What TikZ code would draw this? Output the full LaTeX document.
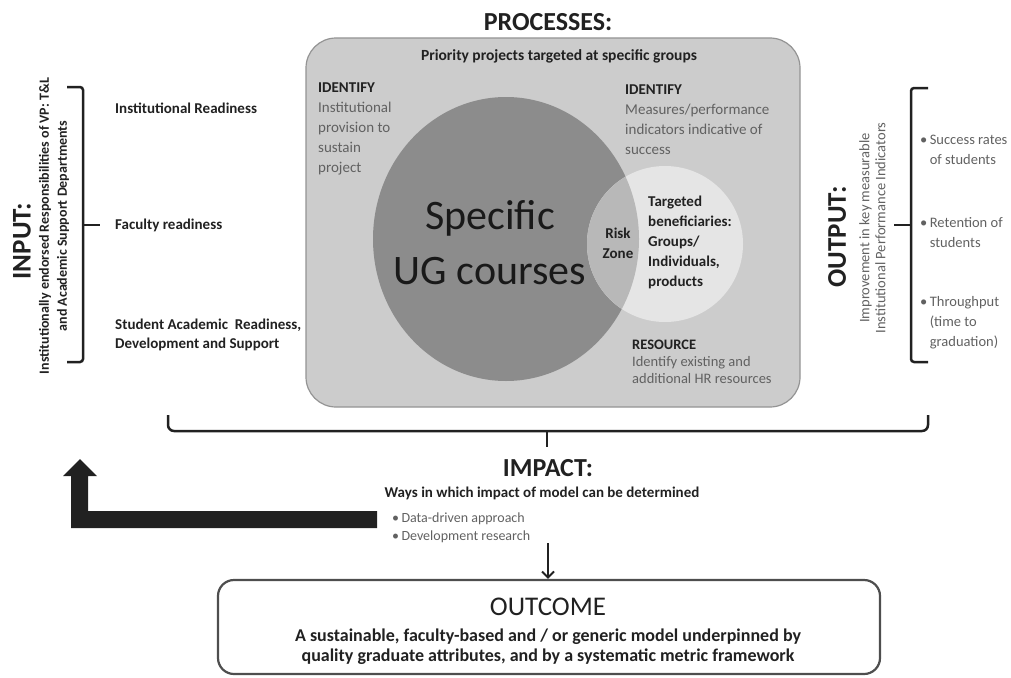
\documentclass[tikz,border=0pt]{standalone}
\usepackage{fontspec}
\setmainfont{Carlito}
\usepackage{tikz}
\usetikzlibrary{
    arrows.meta,
    positioning,
    calc
}
\definecolor{inkgray}{gray}{0.13}
\definecolor{txtgray}{gray}{0.38}
\definecolor{boxgray}{gray}{0.80}
\definecolor{boxline}{gray}{0.58}
\definecolor{darkdisk}{gray}{0.55}
\definecolor{lightdisk}{gray}{0.90}
\definecolor{riskgray}{gray}{0.72}
\tikzstyle{heading} = [
    inner sep=0pt,
    text=inkgray,
    font=\fontsize{26}{30}\selectfont\bfseries
]
\tikzstyle{label} = [
    inner sep=0pt,
    align=left,
    text=inkgray,
    font=\fontsize{15}{20}\selectfont\bfseries
]
\tikzstyle{body} = [
    inner sep=0pt,
    align=left,
    text=txtgray,
    font=\fontsize{15}{20}\selectfont
]
\tikzstyle{bracket} = [
    line width=2.5pt,
    draw=inkgray,
    rounded corners=3pt
]
\tikzstyle{procbox} = [
    rectangle,
    rounded corners=30pt,
    draw=boxline,
    line width=1.2pt,
    fill=boxgray
]
\tikzstyle{outbox} = [
    rectangle,
    rounded corners=16pt,
    draw=inkgray!80,
    line width=2.2pt
]

\begin{document}
\begin{tikzpicture}[x=1pt, y=-1pt]
        \useasboundingbox (0,0) rectangle (1011,677);

        % Processes panel
        \node[heading] (proctitle) at (548,22) {PROCESSES:};
        \node[procbox, minimum width=494pt, minimum height=369pt] (proc) at (553,222.5) {};
        \node[label, font=\fontsize{15.5}{20}\selectfont\bfseries] (priority) at (559,56) {Priority projects targeted at specific groups};

        % Venn discs
        \fill[darkdisk] (506,239) ellipse [x radius=133pt, y radius=142pt];
        \fill[lightdisk] (665,244) circle [radius=78pt];
        \begin{scope}
            \clip (506,239) ellipse [x radius=133pt, y radius=142pt];
            \fill[riskgray] (665,244) circle [radius=78pt];
        \end{scope}
        \node[inner sep=0pt, align=center, text=black!90, font=\fontsize{42}{55}\selectfont] (courses) at (490,242.5) {Specific\\UG courses};
        \node[label, align=center] (risk) at (618,243) {Risk\\Zone};
        \node[label, anchor=west] (targets) at (648,242) {Targeted\\beneficiaries:\\Groups/\\Individuals,\\products};

        % Panel notes
        \node[body, anchor=west] (idleft) at (318,129) {{\bfseries\color{inkgray}IDENTIFY}\\Institutional\\provision to\\sustain\\project};
        \node[body, anchor=west] (idright) at (625,119.5) {{\bfseries\color{inkgray}IDENTIFY}\\Measures/performance\\indicators indicative of\\success};
        \node[body, anchor=west, font=\fontsize{14.5}{17}\selectfont] (resource) at (632,362) {{\bfseries\color{inkgray}RESOURCE}\\Identify existing and\\additional HR resources};

        % Input side
        \node[heading, rotate=90, font=\fontsize{27}{30}\selectfont\bfseries] (input) at (22,241) {INPUT:};
        \node[label, rotate=90, align=center, font=\fontsize{14}{18}\selectfont\bfseries] (inputsub) at (54,226) {Institutionally endorsed Responsibilities of VP: T\&L\\and Academic Support Departments};
        \draw[bracket] (67,87) -- (83,87) -- (83,362) -- (67,362);
        \draw[bracket] (83,225) -- (100,225);
        \node[label, anchor=west] (inst) at (115,108) {Institutional Readiness};
        \node[label, anchor=west] (faculty) at (115,225) {Faculty readiness};
        \node[label, anchor=west, font=\fontsize{15}{19}\selectfont\bfseries] (student) at (115,334.5) {Student Academic\ \ Readiness,\\Development and Support};

        % Output side
        \node[heading, rotate=90, font=\fontsize{27}{30}\selectfont\bfseries] (output) at (837,237) {OUTPUT:};
        \node[body, rotate=90, align=center, font=\fontsize{14.5}{16}\selectfont] (outputsub) at (872.5,228) {Improvement in key measurable\\Institutional Performance Indicators};
        \draw[bracket] (928,88) -- (911,88) -- (911,362) -- (928,362);
        \draw[bracket] (911,225) -- (894,225);
        \node[body, anchor=west, font=\fontsize{14.5}{20}\selectfont] (success) at (920,150) {•\,Success rates\\\hphantom{•\,}of students};
        \node[body, anchor=west, font=\fontsize{14.5}{20}\selectfont] (retention) at (920,233) {•\,Retention of\\\hphantom{•\,}students};
        \node[body, anchor=west, font=\fontsize{14.5}{20}\selectfont] (throughput) at (920,323) {•\,Throughput\\\hphantom{•\,}(time to\\\hphantom{•\,}graduation)};

        % Impact
        \draw[bracket, rounded corners=6pt] (168,415) -- (168,431) -- (928,431) -- (928,415);
        \draw[bracket] (547,431) -- (547,447);
        \node[heading] (impact) at (548,468) {IMPACT:};
        \node[label, font=\fontsize{15}{18}\selectfont\bfseries] (ways) at (542,493) {Ways in which impact of model can be determined};
        \node[body, anchor=west, font=\fontsize{14}{18}\selectfont] (implist) at (392,528) {•\,Data-driven approach\\•\,Development research};

        % Feedback arrow
        \fill[inkgray] (377,511) -- (88,511) -- (88,476) -- (97,476) -- (80,459)
            -- (63,476) -- (71,476) -- (71,528) -- (377,528) -- cycle;

        % Outcome
        \node[outbox, minimum width=662pt, minimum height=94pt] (outcome) at (549,627) {};
        \coordinate (drop) at (548,543);
        \draw[-{Straight Barb[length=6pt, width=12pt]}, line width=2pt, draw=inkgray] (drop) -- (drop |- outcome.north);
        \node[inner sep=0pt, text=inkgray, font=\fontsize{27}{30}\selectfont] (outtitle) at (548,607) {OUTCOME};
        \node[label, align=center, font=\fontsize{18}{20}\selectfont\bfseries] (outtext) at (548,647) {A sustainable, faculty-based and / or generic model underpinned by\\quality graduate attributes, and by a systematic metric framework};
    \end{tikzpicture}
\end{document}
